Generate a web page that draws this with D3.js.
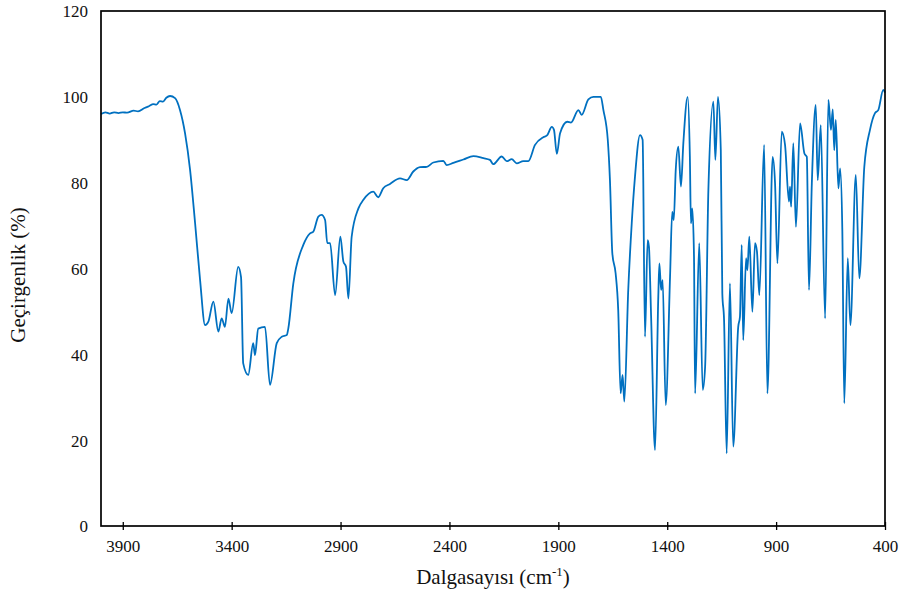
<!DOCTYPE html>
<html><head><meta charset="utf-8">
<script src="https://cdn.jsdelivr.net/npm/d3@7"></script>
<style>html,body{margin:0;padding:0;background:#fff}</style>
</head><body>
<svg id="chart" width="902" height="590"></svg>
<script>
const wavenumbers = [4000,3980,3960,3940,3920,3900,3880,3850,3830,3800,3780,3760,3745,3730,3715,3700,3683,3660,3637,3614,3591,3568,3545,3522,3507,3484,3461,3446,3431,3415,3400,3370,3357,3347,3324,3301,3293,3278,3247,3224,3193,3170,3147,3140,3117,3071,3040,3025,3002,2987,2971,2961,2948,2925,2901,2887,2875,2864,2849,2818,2795,2750,2727,2704,2673,2627,2596,2566,2535,2504,2474,2428,2413,2382,2336,2290,2244,2214,2199,2160,2137,2114,2091,2061,2038,2007,1969,1952,1930,1920,1907,1892,1859,1842,1808,1793,1762,1739,1705,1693,1673,1663,1652,1637,1625,1614,1605,1597,1579,1563,1548,1525,1513,1502,1490,1484,1474,1456,1441,1436,1428,1421,1407,1387,1377,1370,1361,1349,1337,1326,1306,1296,1291,1285,1277,1272,1253,1237,1226,1211,1188,1179,1167,1154,1147,1139,1127,1112,1097,1074,1066,1058,1051,1038,1032,1023,1009,997,988,977,955,940,916,905,894,874,859,841,836,831,821,809,790,770,759,749,736,718,709,695,675,660,648,640,633,626,614,606,596,587,571,559,534,518,495,469,446,431,408,400];
const transmittance = [96.0,96.4,96.1,96.4,96.2,96.4,96.3,96.8,96.6,97.4,97.8,98.3,98.2,99.0,98.9,99.8,100.2,99.7,96.9,91.5,83,70.6,57.3,46.8,47.6,52.3,45.3,48.4,46.4,53,49.6,60.4,58,37.9,35.2,42.6,39.8,46,46.4,32.9,42.6,44.1,44.5,46,56.5,65.5,68.2,68.6,72.1,72.5,71.3,65.9,65.9,53.8,67.4,61.6,60.4,53,67.4,74,76,77.9,76.6,78.7,79.7,81,80.6,82.6,83.6,83.7,84.7,85.1,84.1,84.6,85.4,86.2,85.7,85.3,84.3,86.1,85,85.5,84.5,85,85,88.8,90.6,91,93,92.3,86.7,91.5,94.2,94,96.9,95.8,99.4,100,100,96.9,90,80.6,63.5,58.9,50.3,30.9,35.2,29,55,70.5,81.4,91.1,90,44.1,66.6,65.1,48.8,17.7,53.4,61.2,55,57.3,28.2,58.1,73.2,71.3,82.9,88.4,79.1,89.2,100,86,70.5,74,62.7,30.9,65.9,31.7,37.1,78.3,98.9,85.3,100,87.6,54.2,48,16.9,56.5,18.5,46.4,48.8,65.5,43.3,62.4,59.6,67.4,49.9,65.9,64,53.8,88.8,30.9,86,80,61.2,91.9,88.8,75.6,79.1,74.4,89.2,69.7,93.8,86.8,86,55,79.8,98.1,80.6,93.4,48.4,99.3,92.3,97.1,87.6,94.6,78.7,83.3,69,28.6,62.4,46.8,81.8,57.7,83.7,92.3,96.2,96.9,101.6,101];
const xTicks = [3900,3400,2900,2400,1900,1400,900,400];
const yTicks = [0,20,40,60,80,100,120];
const xTitle = "Dalgasayısı (cm";
const xTitleSup = "-1";
const yTitle = "Geçirgenlik (%)";

const svg = d3.select("#chart");
const L = 101, R = 885, T = 11, B = 526;
const x = d3.scaleLinear().domain([4000, 400]).range([L, R]);
const y = d3.scaleLinear().domain([0, 120]).range([B, T]);
const font = "'Liberation Serif','Times New Roman',serif";

const pts = wavenumbers.map((w, i) => [w, transmittance[i]]);
svg.append("path")
  .datum(pts)
  .attr("fill", "none")
  .attr("stroke", "#0070C0")
  .attr("stroke-width", 1.8)
  .attr("stroke-linejoin", "round")
  .attr("d", d3.line().x(d => x(d[0])).y(d => y(d[1])).curve(d3.curveMonotoneX));

// frame
svg.append("rect").attr("x", L).attr("y", T).attr("width", R - L).attr("height", B - T)
  .attr("fill", "none").attr("stroke", "#000").attr("stroke-width", 1.7);

// x axis
const xAxis = d3.axisBottom(x).tickValues(xTicks).tickSize(0).tickFormat(d3.format("d"));
const gx = svg.append("g").attr("transform", `translate(0,${B})`).call(xAxis);
gx.select(".domain").remove();
gx.selectAll(".tick line").remove();
gx.selectAll(".tick").append("line").attr("y1", -4).attr("y2", 4).attr("stroke", "#000").attr("stroke-width", 1.3);
gx.selectAll("text").attr("dy", 0).attr("y", 26).attr("font-family", font).attr("font-size", 17).attr("fill", "#111");

// y axis
const yAxis = d3.axisLeft(y).tickValues(yTicks).tickSize(0).tickFormat(d3.format("d"));
const gy = svg.append("g").attr("transform", `translate(${L},0)`).call(yAxis);
gy.select(".domain").remove();
gy.selectAll(".tick line").remove();
gy.selectAll("text").attr("x", -13).attr("dy", "0.35em").attr("font-family", font).attr("font-size", 17).attr("fill", "#111");

// titles
const xt = svg.append("text").attr("x", 493).attr("y", 584).attr("text-anchor", "middle")
  .attr("font-family", font).attr("font-size", 21).attr("fill", "#111");
xt.append("tspan").text(xTitle);
xt.append("tspan").attr("dy", -8).attr("font-size", 13).text(xTitleSup);
xt.append("tspan").attr("dy", 8).text(")");

svg.append("text").attr("transform", "translate(25,275) rotate(-90)").attr("text-anchor", "middle")
  .attr("font-family", font).attr("font-size", 21).attr("fill", "#111").text(yTitle);
</script>
</body></html>
